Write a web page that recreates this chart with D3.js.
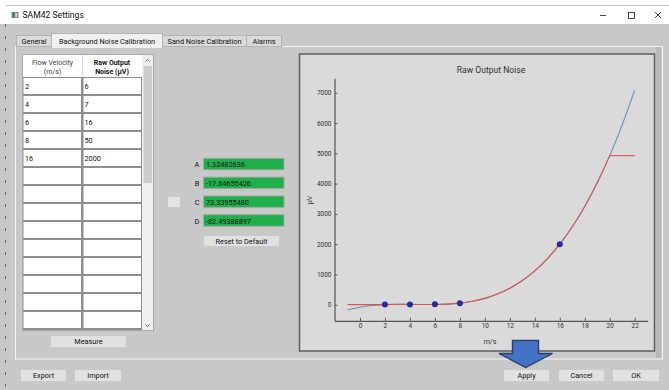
<!DOCTYPE html>
<html><head><meta charset="utf-8">
<script src="https://cdn.jsdelivr.net/npm/d3@7"></script>
<style>
body{margin:0;overflow:hidden;background:#c8c8c8}
svg{display:block;font-family:Roboto,"Noto Sans",sans-serif}
</style>
</head><body>
<svg id="c" width="669" height="390"></svg>
<script>
// ---------- data ----------
const windowTitle = "SAM42 Settings";
const tabNames = ["General", "Background Noise Calibration", "Sand Noise Calibration", "Alarms"];
const velocities = [2, 4, 6, 8, 16];
const noiseValues = [6, 7, 16, 50, 2000];
const coefNames = ["A", "B", "C", "D"];
const coefValues = ["1.32482636", "-17.64655426", "73.33955480", "-82.49388897"];
const curveVelocity = [-1, 0, 1, 2, 3, 4, 5, 6, 7, 8, 9, 10, 11, 12, 13, 14, 15, 16, 17, 18, 19, 20, 21, 22];
const fitNoise = [-174.8, -82.5, -25.5, 4.2, 14.5, 13.3, 8.6, 8.4, 20.6, 53.2, 114.0, 211.1, 352.4, 545.8, 799.3, 1120.9, 1518.4, 1999.9, 2573.3, 3246.5, 4027.5, 4924.3, 5944.7, 7096.8];
const limitedNoise = [4.2, 4.2, 4.2, 4.2, 14.5, 13.3, 8.6, 8.4, 20.6, 53.2, 114.0, 211.1, 352.4, 545.8, 799.3, 1120.9, 1518.4, 1999.9, 2573.3, 3246.5, 4027.5, 4924.3, 4924.3, 4924.3];
const xTicks = [0, 2, 4, 6, 8, 10, 12, 14, 16, 18, 20, 22];
const yTicks = [0, 1000, 2000, 3000, 4000, 5000, 6000, 7000];
const chartTitle = "Raw Output Noise";
const xLabel = "m/s";
const yLabel = "μV";
const footButtons = ["Export", "Import", "Apply", "Cancel", "OK"];

// ---------- drawing ----------
const svg = d3.select("#c");
const FS = 7.3;
svg.append("rect").attr("width", 669).attr("height", 390).attr("fill", "#c8c8c8");
// left window edge
svg.append("line").attr("x1", 5.5).attr("x2", 5.5).attr("y1", 24).attr("y2", 390)
  .attr("stroke", "#6a6a6a").attr("stroke-dasharray", "3,9");
// title bar
svg.append("rect").attr("x", 0).attr("y", 0).attr("width", 669).attr("height", 24).attr("fill", "#ffffff");
svg.append("line").attr("x1", 6).attr("x2", 669).attr("y1", 5.5).attr("y2", 5.5).attr("stroke", "#c4c4c4");
svg.append("rect").attr("x", 12).attr("y", 12.5).attr("width", 6).attr("height", 5).attr("fill", "#d0d0d0").attr("stroke", "#555").attr("stroke-width", 0.7);
svg.append("rect").attr("x", 12.5).attr("y", 13).attr("width", 2.5).attr("height", 4).attr("fill", "#2e8b57");
svg.append("text").attr("x", 22.5).attr("y", 18).attr("font-size", 8.6).attr("fill", "#111").text(windowTitle);
const ctl = svg.append("g").attr("stroke", "#333").attr("stroke-width", 0.9).attr("fill", "none");
ctl.append("line").attr("x1", 600).attr("x2", 606).attr("y1", 15.5).attr("y2", 15.5);
ctl.append("rect").attr("x", 628.5).attr("y", 12.5).attr("width", 6).attr("height", 6);
ctl.append("line").attr("x1", 655).attr("x2", 661).attr("y1", 12).attr("y2", 18);
ctl.append("line").attr("x1", 661).attr("x2", 655).attr("y1", 12).attr("y2", 18);

// tab pane
svg.append("rect").attr("x", 15.5).attr("y", 46.5).attr("width", 647).attr("height", 312.5)
  .attr("fill", "#c8c8c8").attr("stroke", "#f4f4f4");
svg.append("rect").attr("x", 656).attr("y", 47).attr("width", 5).attr("height", 311).attr("fill", "#b9b9b9");
// tabs
const tabX = [16.5, 51.5, 162.5, 246.5, 281.5];
tabNames.forEach((t, i) => {
  const sel = i === 1;
  const g = svg.append("g");
  g.append("rect").attr("x", tabX[i]).attr("y", sel ? 33.5 : 35.5)
    .attr("width", tabX[i + 1] - tabX[i]).attr("height", sel ? 14 : 11)
    .attr("fill", sel ? "#f0f0f0" : "#dadada").attr("stroke", "#b4b4b4");
  g.append("text").attr("x", (tabX[i] + tabX[i + 1]) / 2).attr("y", sel ? 43.5 : 44)
    .attr("text-anchor", "middle").attr("font-size", FS).attr("fill", "#111").text(t);
});
svg.append("line").attr("x1", 52).attr("x2", 162).attr("y1", 47).attr("y2", 47).attr("stroke", "#f0f0f0").attr("stroke-width", 2);

// ---- table ----
const tbl = svg.append("g");
tbl.append("rect").attr("x", 22.5).attr("y", 54.5).attr("width", 131).attr("height", 276)
  .attr("fill", "#8e8e8e").attr("stroke", "#a9a9a9");
tbl.append("rect").attr("x", 23).attr("y", 55).attr("width", 119).attr("height", 22).attr("fill", "#ffffff");
tbl.append("line").attr("x1", 82.5).attr("x2", 82.5).attr("y1", 55).attr("y2", 77).attr("stroke", "#dcdcdc");
const hdr = tbl.append("g").attr("font-size", 7).attr("text-anchor", "middle");
hdr.append("text").attr("x", 52.5).attr("y", 64.5).attr("fill", "#444").text("Flow Velocity");
hdr.append("text").attr("x", 52.5).attr("y", 74).attr("fill", "#444").text("(m/s)");
hdr.append("text").attr("x", 112).attr("y", 64.5).attr("font-weight", "bold").attr("fill", "#111").text("Raw Output");
hdr.append("text").attr("x", 112).attr("y", 74).attr("font-weight", "bold").attr("fill", "#111").text("Noise (μV)");
const nRows = 14;
const rowY = d3.range(nRows).map(i => 78 + i * 18);
rowY.forEach((y, i) => {
  tbl.append("rect").attr("x", 23.5).attr("y", y).attr("width", 57.5).attr("height", 16).attr("fill", "#fff");
  tbl.append("rect").attr("x", 83.5).attr("y", y).attr("width", 57.5).attr("height", 16).attr("fill", "#fff");
  if (i < velocities.length) {
    tbl.append("text").attr("x", 25).attr("y", y + 11).attr("font-size", FS).attr("fill", "#111").text(velocities[i]);
    tbl.append("text").attr("x", 84.5).attr("y", y + 11).attr("font-size", FS).attr("fill", "#111").text(noiseValues[i]);
  }
});
// scrollbar
tbl.append("rect").attr("x", 142).attr("y", 55).attr("width", 11).attr("height", 275).attr("fill", "#f0f0f0");
tbl.append("rect").attr("x", 143.5).attr("y", 66).attr("width", 8.5).attr("height", 117).attr("fill", "#cdcdcd");
tbl.append("path").attr("d", "M145.5,61.5 L147.5,59.5 L149.5,61.5").attr("fill", "none").attr("stroke", "#555").attr("stroke-width", 0.9);
tbl.append("path").attr("d", "M145.5,324.5 L147.5,326.5 L149.5,324.5").attr("fill", "none").attr("stroke", "#555").attr("stroke-width", 0.9);

function button(x, y, w, h, label) {
  const g = svg.append("g");
  g.append("rect").attr("x", x + 0.5).attr("y", y + 0.5).attr("width", w).attr("height", h)
    .attr("fill", "#e1e1e1").attr("stroke", "#c9c9c9");
  g.append("text").attr("x", x + w / 2 + 0.5).attr("y", y + h / 2 + 3).attr("text-anchor", "middle")
    .attr("font-size", FS).attr("fill", "#111").text(label);
}
button(50, 335, 76, 12, "Measure");

// ---- coefficients ----
coefNames.forEach((n, i) => {
  const y = 158.3 + i * 18.8;
  svg.append("text").attr("x", 197).attr("y", y + 9).attr("text-anchor", "middle").attr("font-size", FS).attr("fill", "#111").text(n);
  svg.append("rect").attr("x", 203.5).attr("y", y).attr("width", 80.5).attr("height", 11.5)
    .attr("fill", "#1fb04c").attr("stroke", "#a7a7a7");
  svg.append("text").attr("x", 206).attr("y", y + 8.8).attr("font-size", FS).attr("fill", "#111").text(coefValues[i]);
});
svg.append("rect").attr("x", 167.5).attr("y", 196.5).attr("width", 13).attr("height", 11).attr("fill", "#e4e4e4").attr("stroke", "#c8c8c8");
button(203, 235, 76, 11, "Reset to Default");

// ---- chart ----
svg.append("rect").attr("x", 299.5).attr("y", 54).attr("width", 355).attr("height", 297)
  .attr("fill", "#dadada").attr("stroke", "#5c5c5c").attr("stroke-width", 1.5);
const x = d3.scaleLinear().domain([-2.04, 23.04]).range([334.5, 647.7]);
const y = d3.scaleLinear().domain([-530, 7480]).range([320.8, 78.2]);
const chart = svg.append("g");
chart.append("text").attr("x", 491).attr("y", 73).attr("text-anchor", "middle").attr("font-size", 8.6).attr("fill", "#333").text(chartTitle);
const ax = chart.append("g").attr("transform", "translate(0,320.8)")
  .call(d3.axisBottom(x).tickValues(xTicks).tickSizeInner(-3).tickSizeOuter(0).tickPadding(3).tickFormat(d3.format("d")));
const ay = chart.append("g").attr("transform", "translate(334.5,0)")
  .call(d3.axisLeft(y).tickValues(yTicks).tickSizeInner(-3).tickSizeOuter(0).tickPadding(3).tickFormat(d3.format("d")));
[ax, ay].forEach(a => {
  a.select(".domain").attr("stroke", "#555").attr("stroke-width", 1.2);
  a.selectAll(".tick line").attr("stroke", "#555");
  a.selectAll(".tick text").attr("font-size", 6.5).attr("fill", "#333").attr("font-family", "Roboto,sans-serif");
});
chart.append("text").attr("x", 490).attr("y", 344).attr("text-anchor", "middle").attr("font-size", 7).attr("fill", "#333").text(xLabel);
chart.append("text").attr("transform", "translate(312,200) rotate(-90)").attr("text-anchor", "middle").attr("font-size", 7).attr("fill", "#333").text(yLabel);

const fitPts = curveVelocity.map((v, i) => [v, fitNoise[i]]);
const limPts = curveVelocity.map((v, i) => [v, limitedNoise[i]]);
const lineC = d3.line().x(d => x(d[0])).y(d => y(d[1])).curve(d3.curveCatmullRom);
const lineL = d3.line().x(d => x(d[0])).y(d => y(d[1]));
chart.append("path").attr("d", lineC(fitPts)).attr("fill", "none").attr("stroke", "#6f8fb3").attr("stroke-width", 1.1);
// limited curve: flat ends drawn straight, middle smooth
const lo = limitedNoise[0], hi = limitedNoise[limitedNoise.length - 1];
const midPts = limPts.filter((d, i) => (d[1] !== lo || (i + 1 < limPts.length && limPts[i + 1][1] !== lo)) && (d[1] !== hi || (i > 0 && limPts[i - 1][1] !== hi)));
const leftPts = limPts.filter(d => d[1] === lo);
const rightPts = limPts.filter(d => d[1] === hi);
const red = "#d9584c";
chart.append("path").attr("d", lineL(leftPts)).attr("fill", "none").attr("stroke", red).attr("stroke-width", 1.1);
chart.append("path").attr("d", lineC(midPts)).attr("fill", "none").attr("stroke", red).attr("stroke-width", 1.1);
chart.append("path").attr("d", lineL(rightPts)).attr("fill", "none").attr("stroke", red).attr("stroke-width", 1.1);
chart.selectAll("circle.pt").data(velocities).join("circle").attr("class", "pt")
  .attr("cx", d => x(d)).attr("cy", (d, i) => y(noiseValues[i])).attr("r", 3).attr("fill", "#2a2a9c");

// ---- footer ----
const fb = [[20, 46], [74, 47], [503, 46], [558, 46], [612, 47]];
footButtons.forEach((b, i) => button(fb[i][0], 369, fb[i][1], 12, b));

// arrow
svg.append("path")
  .attr("d", "M512.5,340.5 L538.5,340.5 L538.5,353.5 L552.5,353.5 L525.7,367.5 L499,353.5 L512.5,353.5 Z")
  .attr("fill", "#4472c4").attr("stroke", "#2d3f63").attr("stroke-width", 1.4);
</script>
</body></html>
